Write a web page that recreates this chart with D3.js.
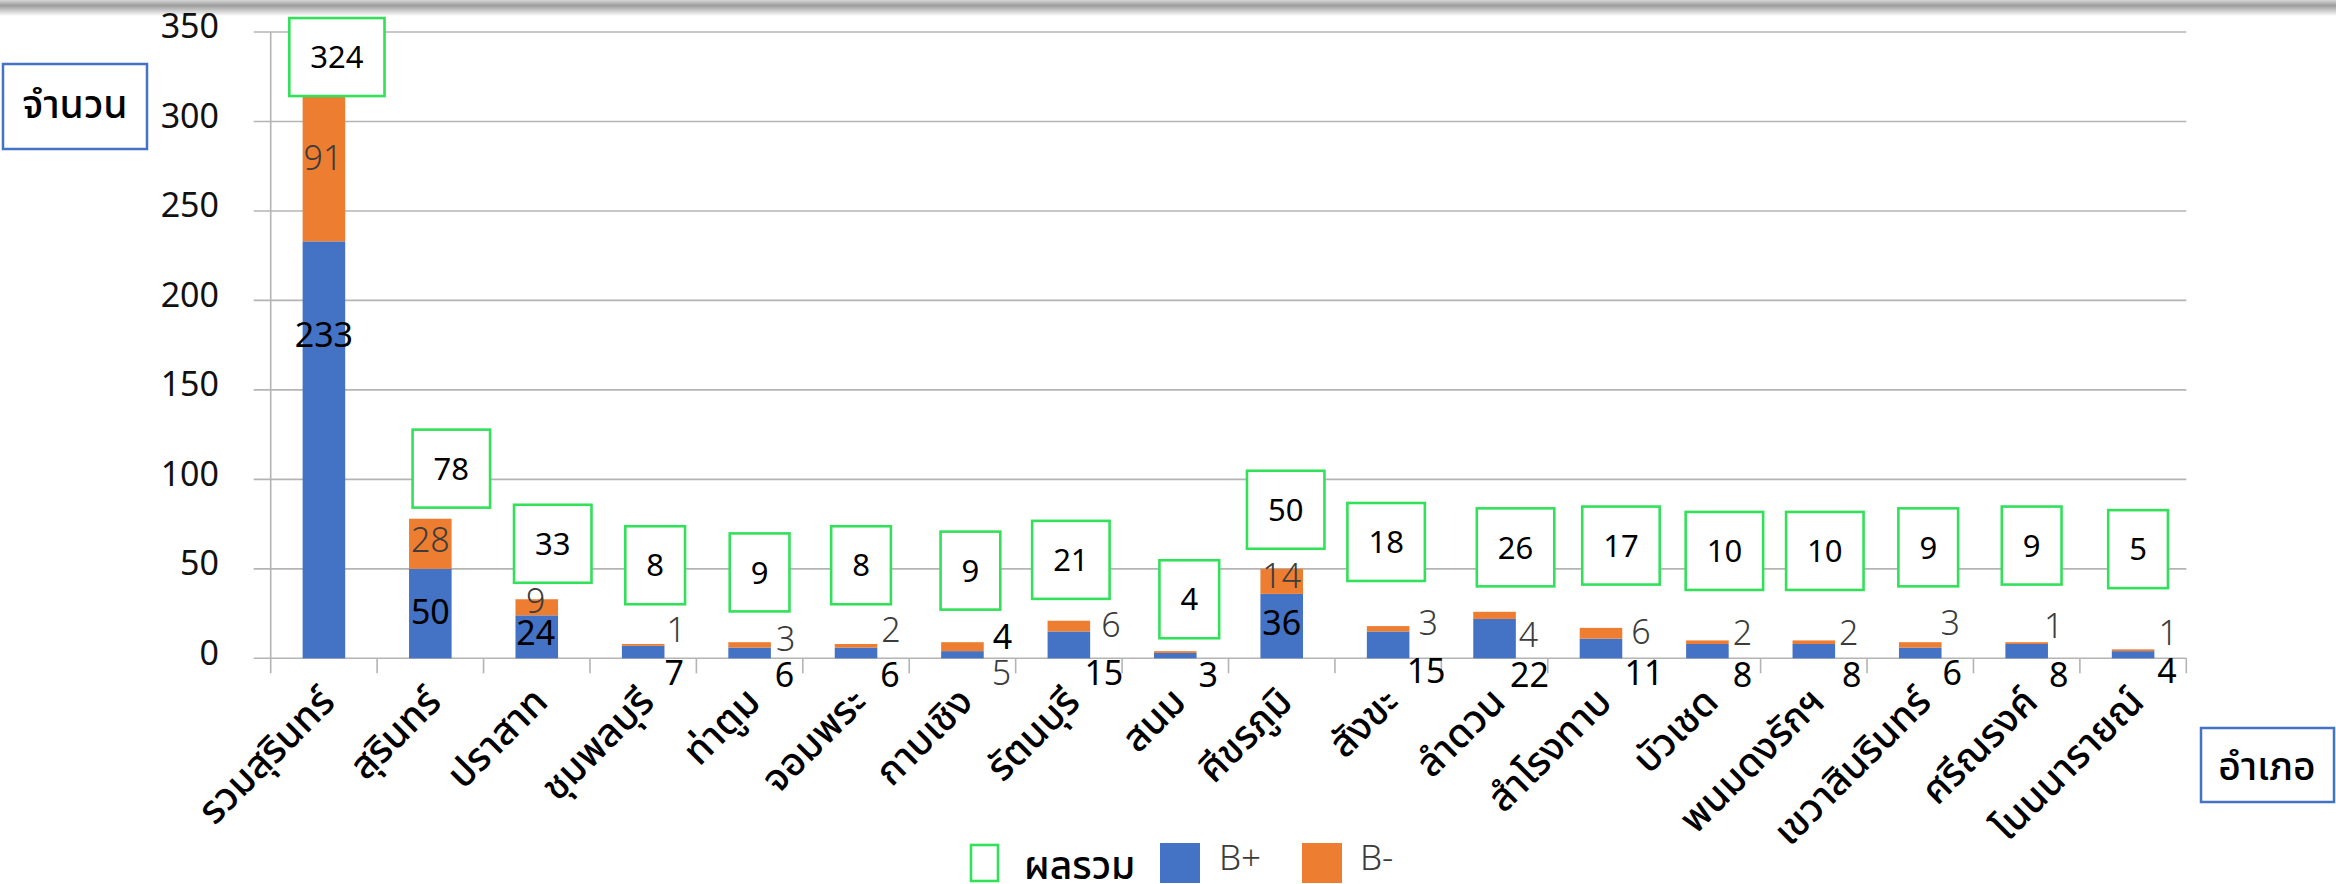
<!DOCTYPE html>
<html>
<head>
<meta charset="utf-8">
<script src="https://cdn.jsdelivr.net/npm/d3@7"></script>
<style>
  html, body { margin: 0; padding: 0; background: #fff; }
  svg { display: block; }
</style>
</head>
<body>
<div class="canvas"></div>
<script>
const districts = ['รวมสุรินทร์', 'สุรินทร์', 'ปราสาท', 'ชุมพลบุรี', 'ท่าตูม', 'จอมพระ', 'กาบเชิง', 'รัตนบุรี', 'สนม', 'ศีขรภูมิ', 'สังขะ', 'ลำดวน', 'สำโรงทาบ', 'บัวเชด', 'พนมดงรักฯ', 'เขวาสินรินทร์', 'ศรีณรงค์', 'โนนนารายณ์'];
const bPlus = [233, 50, 24, 7, 6, 6, 4, 15, 3, 36, 15, 22, 11, 8, 8, 6, 8, 4];
const bMinus = [91, 28, 9, 1, 3, 2, 5, 6, 1, 14, 3, 4, 6, 2, 2, 3, 1, 1];
const totals = [324, 78, 33, 8, 9, 8, 9, 21, 4, 50, 18, 26, 17, 10, 10, 9, 9, 5];
const yTicks = [0, 50, 100, 150, 200, 250, 300, 350];
const seriesNames = ['ผลรวม', 'B+', 'B-'];

// label placement: [shift from band centre in px, height in data units]
const totalPos = [[13, 336], [21, 106], [16, 64], [12, 52], [10, 48], [5, 52], [8, 49], [2, 55], [14, 33], [4, 83], [-2, 65], [21, 62], [20, 63], [17, 60], [11, 60], [8, 62], [5, 63], [5, 61]];
const plusPos = [[0, 181], [0, 26], [-1, 14], [31, -8], [35, -9], [34, -9], [40, 12], [35, -8], [33, -9], [0, 20], [38, -7], [35, -9], [43, -8], [35, -9], [38, -9], [32, -8], [32, -9], [34, -7]];
const minusPos = [[-1, 280], [0, 66], [-1, 32], [33, 16], [36, 11], [35, 16], [39, -8], [42, 19], [14, 33], [0, 46], [40, 20], [34, 13], [40, 15], [35, 14], [35, 14], [30, 20], [27, 18], [35, 14]];

const dims = { width: 2336, height: 884, left: 270.7, right: 2186.3, top: 32, bottom: 658.3 };
const colors = { plus: '#4472c4', minus: '#ed7d31', total: '#33e05a', grid: '#b4b4b4' };
const numFont = '"Noto Sans", "DejaVu Sans", sans-serif';
const thaiFont = '"Noto Sans Thai", "Leelawadee UI", Tahoma, "Noto Sans", sans-serif';

const svg = d3
  .select('.canvas')
  .append('svg')
  .attr('width', dims.width)
  .attr('height', dims.height);

// grey shadow strip along the top edge
const grad = svg
  .append('defs')
  .append('linearGradient')
  .attr('id', 'shade')
  .attr('x1', 0)
  .attr('y1', 0)
  .attr('x2', 0)
  .attr('y2', 1);
grad.append('stop').attr('offset', '0%').attr('stop-color', '#d6d6d6');
grad.append('stop').attr('offset', '35%').attr('stop-color', '#9c9c9c');
grad.append('stop').attr('offset', '100%').attr('stop-color', '#ffffff');
svg.append('rect').attr('width', dims.width).attr('height', 16).attr('fill', 'url(#shade)');

const x = d3
  .scaleBand()
  .domain(districts)
  .range([dims.left, dims.right])
  .paddingInner(0.6)
  .paddingOuter(0.3);

const y = d3.scaleLinear().domain([0, 350]).range([dims.bottom, dims.top]);

const mid = (i) => x(districts[i]) + x.bandwidth() / 2;

// gridlines + y labels
svg
  .append('g')
  .selectAll('line')
  .data(yTicks)
  .enter()
  .append('line')
  .attr('x1', dims.left - 17)
  .attr('x2', dims.right)
  .attr('y1', (d) => y(d))
  .attr('y2', (d) => y(d))
  .attr('stroke', colors.grid)
  .attr('stroke-width', 1.6);

svg
  .append('g')
  .selectAll('text')
  .data(yTicks)
  .enter()
  .append('text')
  .attr('x', 219)
  .attr('y', (d) => y(d) - 6)
  .attr('dy', '0.36em')
  .attr('text-anchor', 'end')
  .attr('font-family', numFont)
  .attr('font-size', 34)
  .attr('fill', '#111')
  .text((d) => d);

// y axis line and category ticks
const step = x.step();
svg
  .append('line')
  .attr('x1', dims.left)
  .attr('x2', dims.left)
  .attr('y1', dims.top)
  .attr('y2', dims.bottom + 15)
  .attr('stroke', colors.grid)
  .attr('stroke-width', 1.6);

svg
  .append('g')
  .selectAll('line')
  .data(d3.range(1, districts.length + 1))
  .enter()
  .append('line')
  .attr('x1', (d) => dims.left + d * step)
  .attr('x2', (d) => dims.left + d * step)
  .attr('y1', dims.bottom)
  .attr('y2', dims.bottom + 15)
  .attr('stroke', colors.grid)
  .attr('stroke-width', 1.6);

// stacked bars
const rows = districts.map((name, i) => ({ name, plus: bPlus[i], minus: bMinus[i] }));
const stacked = d3.stack().keys(['plus', 'minus'])(rows);

svg
  .append('g')
  .selectAll('g')
  .data(stacked)
  .enter()
  .append('g')
  .attr('fill', (s) => colors[s.key])
  .selectAll('rect')
  .data((s) => s)
  .enter()
  .append('rect')
  .attr('x', (d) => x(d.data.name))
  .attr('width', x.bandwidth())
  .attr('y', (d) => y(d[1]))
  .attr('height', (d) => y(d[0]) - y(d[1]));

// value labels of the two series (B- drawn light, B+ regular)
const valueLabels = (vals, pos, fill, weight) => {
  svg
    .append('g')
    .selectAll('text')
    .data(vals)
    .enter()
    .append('text')
    .attr('x', (d, i) => mid(i) + pos[i][0])
    .attr('y', (d, i) => y(pos[i][1]))
    .attr('dy', '0.36em')
    .attr('text-anchor', 'middle')
    .attr('font-family', numFont)
    .attr('font-size', 34)
    .attr('font-weight', weight)
    .attr('fill', fill)
    .text((d) => d);
};

valueLabels(bMinus, minusPos, '#3c3c3c', 300);
valueLabels(bPlus, plusPos, '#000', 400);

// total labels in green boxes
const totalGroups = svg
  .append('g')
  .selectAll('g')
  .data(totals)
  .enter()
  .append('g')
  .attr('transform', (d, i) => `translate(${mid(i) + totalPos[i][0]}, ${y(totalPos[i][1])})`);

totalGroups
  .append('rect')
  .attr('fill', '#fff')
  .attr('stroke', colors.total)
  .attr('stroke-width', 2.6);

totalGroups
  .append('text')
  .attr('text-anchor', 'middle')
  .attr('dy', '0.36em')
  .attr('font-family', numFont)
  .attr('font-size', 31)
  .attr('fill', '#000')
  .text((d) => d);

totalGroups.each(function () {
  const g = d3.select(this);
  const w = g.select('text').node().getComputedTextLength() + 42;
  g.select('rect').attr('x', -w / 2).attr('y', -39).attr('width', w).attr('height', 78);
});

// category labels
svg
  .append('g')
  .selectAll('text')
  .data(districts)
  .enter()
  .append('text')
  .attr('transform', (d, i) => `translate(${mid(i) + 13}, 704) rotate(-45)`)
  .attr('text-anchor', 'end')
  .attr('font-family', thaiFont)
  .attr('font-size', 39)
  .attr('font-weight', 500)
  .attr('fill', '#000')
  .text((d) => d);

// axis title boxes
const titleBox = (x0, y0, w, h, label, tx, ty) => {
  svg
    .append('rect')
    .attr('x', x0)
    .attr('y', y0)
    .attr('width', w)
    .attr('height', h)
    .attr('fill', '#fff')
    .attr('stroke', colors.plus)
    .attr('stroke-width', 2.5);
  svg
    .append('text')
    .attr('x', tx)
    .attr('y', ty)
    .attr('text-anchor', 'middle')
    .attr('font-family', thaiFont)
    .attr('font-size', 39)
    .attr('font-weight', 500)
    .attr('fill', '#000')
    .text(label);
};

titleBox(3, 64, 144, 85, 'จำนวน', 75, 118);
titleBox(2201, 728, 133, 74, 'อำเภอ', 2267, 780);

// legend
const legend = svg.append('g');
legend
  .append('rect')
  .attr('x', 971)
  .attr('y', 845)
  .attr('width', 27)
  .attr('height', 36)
  .attr('fill', '#fff')
  .attr('stroke', colors.total)
  .attr('stroke-width', 2.6);
legend
  .append('text')
  .attr('x', 1024)
  .attr('y', 879)
  .attr('font-family', thaiFont)
  .attr('font-size', 39)
  .attr('font-weight', 500)
  .attr('fill', '#000')
  .text(seriesNames[0]);

[
  { key: 'plus', x0: 1160, tx: 1219, label: seriesNames[1] },
  { key: 'minus', x0: 1302, tx: 1360, label: seriesNames[2] },
].forEach((d) => {
  legend
    .append('rect')
    .attr('x', d.x0)
    .attr('y', 843)
    .attr('width', 40)
    .attr('height', 40)
    .attr('fill', colors[d.key]);
  legend
    .append('text')
    .attr('x', d.tx)
    .attr('y', 870)
    .attr('font-family', numFont)
    .attr('font-size', 35)
    .attr('font-weight', 300)
    .attr('fill', '#3c3c3c')
    .text(d.label);
});
</script>
</body>
</html>
